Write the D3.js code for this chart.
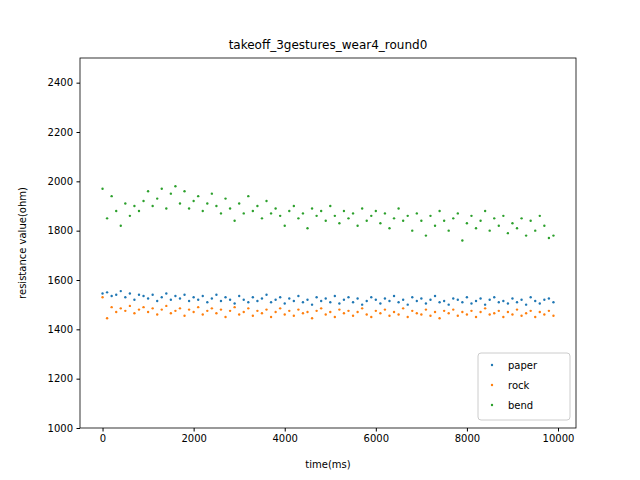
<!DOCTYPE html>
<html><head><meta charset="utf-8">
<script src="https://cdn.jsdelivr.net/npm/d3@7"></script>
<style>body{margin:0;background:#fff}text{font-family:"DejaVu Sans",sans-serif}</style>
</head><body><svg id="c" width="640" height="480"></svg>
<script>
const times=[0,100,200,300,400,500,600,700,800,900,1000,1100,1200,1300,1400,1500,1600,1700,1800,1900,2000,2100,2200,2300,2400,2500,2600,2700,2800,2900,3000,3100,3200,3300,3400,3500,3600,3700,3800,3900,4000,4100,4200,4300,4400,4500,4600,4700,4800,4900,5000,5100,5200,5300,5400,5500,5600,5700,5800,5900,6000,6100,6200,6300,6400,6500,6600,6700,6800,6900,7000,7100,7200,7300,7400,7500,7600,7700,7800,7900,8000,8100,8200,8300,8400,8500,8600,8700,8800,8900,9000,9100,9200,9300,9400,9500,9600,9700,9800,9900];
const paper=[1545,1550,1535,1540,1555,1530,1545,1520,1540,1535,1525,1540,1515,1530,1545,1520,1535,1525,1540,1515,1530,1520,1535,1510,1525,1540,1515,1530,1520,1505,1535,1520,1510,1530,1515,1525,1540,1510,1520,1530,1505,1525,1515,1535,1510,1520,1500,1530,1515,1525,1510,1535,1505,1520,1530,1510,1525,1500,1515,1530,1520,1505,1525,1515,1535,1510,1520,1500,1530,1515,1525,1505,1520,1535,1510,1515,1500,1525,1520,1510,1530,1505,1515,1525,1500,1520,1530,1510,1515,1505,1525,1510,1520,1500,1530,1515,1505,1520,1525,1510];
const rock=[1530,1445,1490,1470,1485,1475,1495,1465,1480,1490,1470,1485,1460,1480,1495,1465,1475,1485,1455,1480,1470,1490,1460,1475,1485,1465,1480,1450,1475,1490,1460,1470,1485,1455,1475,1465,1480,1450,1470,1485,1460,1475,1455,1480,1465,1470,1445,1475,1485,1460,1470,1450,1480,1465,1475,1455,1470,1485,1460,1450,1475,1465,1480,1455,1470,1460,1485,1450,1475,1465,1460,1480,1455,1470,1445,1475,1465,1480,1455,1470,1460,1475,1450,1470,1485,1460,1465,1475,1450,1470,1460,1480,1455,1465,1475,1450,1470,1460,1475,1455];
const bend=[1970,1850,1940,1880,1820,1910,1860,1900,1880,1920,1960,1900,1930,1970,1890,1950,1980,1910,1960,1890,1920,1940,1880,1910,1950,1900,1870,1930,1890,1840,1910,1870,1940,1880,1900,1850,1920,1870,1890,1860,1820,1880,1900,1850,1870,1810,1890,1860,1880,1840,1900,1860,1830,1880,1850,1870,1820,1890,1840,1860,1880,1830,1870,1810,1850,1890,1840,1860,1800,1870,1840,1780,1860,1820,1880,1840,1800,1850,1870,1760,1830,1860,1810,1840,1880,1800,1850,1820,1860,1790,1830,1810,1850,1780,1840,1800,1860,1820,1770,1780];
const seriesNames=["paper","rock","bend"];
const colors=["#1f77b4","#ff7f0e","#2ca02c"];
const xTicks=[0,2000,4000,6000,8000,10000];
const yTicks=[1000,1200,1400,1600,1800,2000,2200,2400];

const svg=d3.select("#c");
const L=80,T=58,W=496,H=370;
const x=d3.scaleLinear().domain([-495,10395]).range([L,L+W]);
const y=d3.scaleLinear().domain([1000,2500]).range([T+H,T]);
const g=svg.append("g");
[paper,rock,bend].forEach((s,i)=>{
  g.selectAll(null).data(s).enter().append("circle")
   .attr("cx",(d,j)=>x(times[j])).attr("cy",d=>y(d)).attr("r",1.2).attr("fill",colors[i]);
});
const xa=svg.append("g").attr("transform",`translate(0,${T+H})`).call(d3.axisBottom(x).tickValues(xTicks).tickFormat(d3.format("d")).tickSize(3.5).tickPadding(3.5));
const ya=svg.append("g").attr("transform",`translate(${L},0)`).call(d3.axisLeft(y).tickValues(yTicks).tickFormat(d3.format("d")).tickSize(3.5).tickPadding(3.5));
[xa,ya].forEach(a=>{a.selectAll("text").attr("font-size",10).attr("fill","#000").style("font-family","DejaVu Sans");a.select(".domain").remove();a.selectAll("line").attr("stroke","#000");});
svg.append("rect").attr("x",L).attr("y",T).attr("width",W).attr("height",H).attr("fill","none").attr("stroke","#000").attr("stroke-width",0.8);
svg.append("text").attr("x",L+W/2).attr("y",T-9).attr("text-anchor","middle").attr("font-size",12).text("takeoff_3gestures_wear4_round0");
svg.append("text").attr("x",L+W/2).attr("y",468).attr("text-anchor","middle").attr("font-size",10).text("time(ms)");
svg.append("text").attr("transform",`translate(26,${T+H/2}) rotate(-90)`).attr("text-anchor","middle").attr("font-size",10).text("resistance value(ohm)");
const lg=svg.append("g").attr("transform","translate(478,353)");
lg.append("rect").attr("width",92).attr("height",67).attr("rx",3).attr("fill","#fff").attr("fill-opacity",0.8).attr("stroke","#ccc");
seriesNames.forEach((n,i)=>{
  lg.append("circle").attr("cx",14).attr("cy",12+i*20).attr("r",1.2).attr("fill",colors[i]);
  lg.append("text").attr("x",30).attr("y",16+i*20).attr("font-size",10).text(n);
});
</script></body></html>
